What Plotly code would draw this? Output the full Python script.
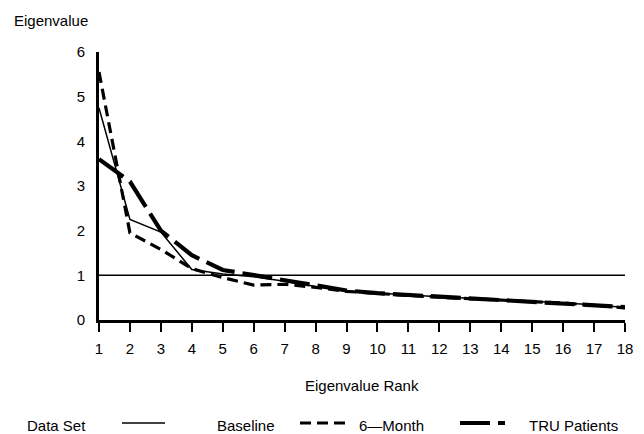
import plotly.graph_objects as go

rank = list(range(1, 19))
baseline = [4.75, 2.25, 1.97, 1.13, 1.03, 0.97, 0.87, 0.75, 0.65, 0.60, 0.56, 0.52, 0.49, 0.46, 0.42, 0.38, 0.34, 0.28]
month6 = [5.55, 1.95, 1.58, 1.15, 0.95, 0.78, 0.80, 0.73, 0.64, 0.59, 0.55, 0.51, 0.48, 0.45, 0.41, 0.38, 0.33, 0.27]
tru = [3.60, 3.10, 2.00, 1.45, 1.12, 1.00, 0.90, 0.77, 0.66, 0.60, 0.56, 0.52, 0.49, 0.46, 0.42, 0.38, 0.34, 0.29]
series_names = ["Baseline", "6\u2014Month", "TRU Patients"]
ref_value = 1

styles = [
    dict(color="black", width=1.5, dash="solid"),
    dict(color="black", width=3.2, dash="11px,6px"),
    dict(color="black", width=4.2, dash="30px,8px"),
]

fig = go.Figure()
for name, vals, st in zip(series_names, [baseline, month6, tru], styles):
    fig.add_trace(go.Scatter(x=rank, y=vals, mode="lines", name=name,
                             line=st, showlegend=False))

fig.add_shape(type="line", xref="x", yref="y", x0=1, x1=18, y0=ref_value, y1=ref_value,
              line=dict(color="black", width=1.5))

W, H = 644, 434
L, R, T, B = 99, 19, 52, 114
pw, ph = W - L - R, H - T - B

def px(x):
    return (x - L) / pw

def py(y):
    return (H - B - y) / ph

font = dict(family="Liberation Sans, Arial, sans-serif", size=15, color="black")

fig.update_layout(
    width=W, height=H,
    margin=dict(l=L, r=R, t=T, b=B),
    paper_bgcolor="white", plot_bgcolor="white",
    font=font,
    xaxis=dict(range=[1, 18], tickvals=rank, showline=True, linewidth=3, linecolor="black",
               ticks="outside", ticklen=9, tickwidth=1.5, tickcolor="black",
               showgrid=False, zeroline=False, ticklabelstandoff=4),
    yaxis=dict(range=[0, 6], tickvals=list(range(0, 7)), showline=True, linewidth=3,
               linecolor="black", ticks="", showgrid=False, zeroline=False,
               ticklabelstandoff=8),
)

ann = []
ann.append(dict(text="Eigenvalue", x=px(12), y=py(20), xref="paper", yref="paper",
                xanchor="left", yanchor="middle", showarrow=False, font=font))
ann.append(dict(text="Eigenvalue Rank", x=px(362), y=py(385), xref="paper", yref="paper",
                xanchor="center", yanchor="middle", showarrow=False, font=font))
ly = 425
ann.append(dict(text="Data Set", x=px(25), y=py(ly), xref="paper", yref="paper",
                xanchor="left", yanchor="middle", showarrow=False, font=font))
sample_x = [(122, 165), (300, 345), (460, 505)]
label_x = [215, 357, 527]
for (x0, x1), lx, name, st in zip(sample_x, label_x, series_names, styles):
    fig.add_shape(type="line", xref="paper", yref="paper", x0=px(x0), x1=px(x1),
                  y0=py(ly - 2), y1=py(ly - 2), line=st)
    ann.append(dict(text=name, x=px(lx), y=py(ly), xref="paper", yref="paper",
                    xanchor="left", yanchor="middle", showarrow=False, font=font))
fig.update_layout(annotations=ann)

fig.write_html("out.html", config={"displayModeBar": False},
               post_script="document.body.style.margin='0';document.body.style.overflow='hidden';")
